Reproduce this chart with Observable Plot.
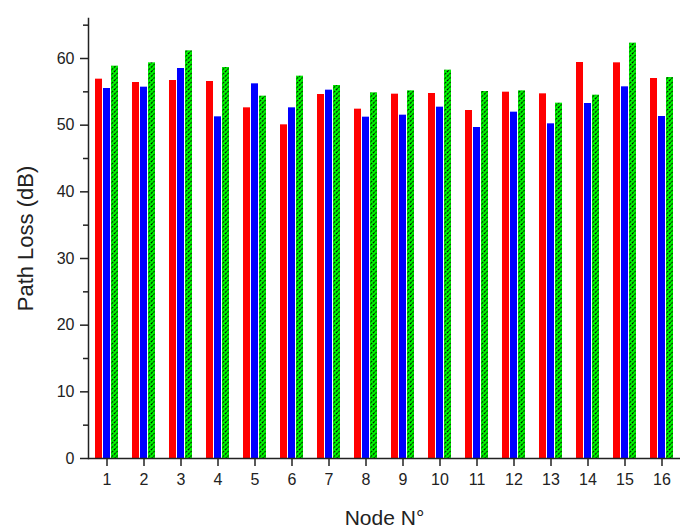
<!DOCTYPE html>
<html>
<head>
<meta charset="utf-8">
<script src="https://cdn.jsdelivr.net/npm/d3@7"></script>
<script src="https://cdn.jsdelivr.net/npm/@observablehq/plot@0.6"></script>
<style>
  html, body { margin: 0; padding: 0; background: #fff; }
  #chart svg { display: block; }
  g[aria-label="y-axis label"] text, g[aria-label="y-axis label"] { font-size: 22px; }
  g[aria-label="fx-axis label"] text, g[aria-label="fx-axis label"] { font-size: 21px; }
</style>
</head>
<body>
<div id="chart"></div>
<script>
const nodes = [1, 2, 3, 4, 5, 6, 7, 8, 9, 10, 11, 12, 13, 14, 15, 16];
const seriesNames = ["Series A", "Series B", "Series C"];
const seriesColors = ["#ff0000", "#0000ff", "url(#hatchGreen)"];
const valuesA = [56.9, 56.4, 56.7, 56.55, 52.6, 50.05, 54.6, 52.4, 54.65, 54.75, 52.2, 54.95, 54.7, 59.4, 59.35, 57.0];
const valuesB = [55.5, 55.7, 58.5, 51.25, 56.2, 52.6, 55.25, 51.2, 51.5, 52.7, 49.65, 51.95, 50.2, 53.25, 55.75, 51.3];
const valuesC = [58.85, 59.35, 61.15, 58.65, 54.35, 57.35, 55.95, 54.85, 55.15, 58.25, 55.05, 55.15, 53.3, 54.5, 62.3, 57.15];
const yMajorTicks = [0, 10, 20, 30, 40, 50, 60];
const yMinorTicks = [5, 15, 25, 35, 45, 55, 65];

const allValues = [valuesA, valuesB, valuesC];
const data = [];
nodes.forEach((n, i) => {
  seriesNames.forEach((s, j) => data.push({node: n, series: s, value: allValues[j][i]}));
});

const svg = Plot.plot({
  width: 692,
  height: 530,
  marginTop: 18,
  marginBottom: 72,
  marginLeft: 82,
  marginRight: 7,
  style: {fontFamily: "'Liberation Sans', Arial, sans-serif", fontSize: "16px", color: "#222", background: "#fff"},
  fx: {domain: nodes, padding: 0},
  x: {domain: seriesNames, axis: null, paddingInner: 0.18, paddingOuter: 0.8},
  y: {domain: [0, 66]},
  color: {type: "ordinal", domain: seriesNames, range: seriesColors},
  marks: [
    Plot.barY(data, {fx: "node", x: "series", y: "value", fill: "series"}),
    Plot.axisY({ticks: yMajorTicks, tickSize: 8, tickPadding: 6, strokeWidth: 1.5, fontSize: 16,
      label: "Path Loss (dB)", labelAnchor: "center", labelOffset: 71, labelArrow: "none"}),
    Plot.axisY({ticks: yMinorTicks, tickSize: 5, strokeWidth: 1.5, tickFormat: () => "", label: null}),
    Plot.axisFx({anchor: "bottom", tickSize: 8, tickPadding: 7, strokeWidth: 1.5, fontSize: 16,
      label: "Node N°", labelAnchor: "center", labelOffset: 66, labelArrow: "none"}),
    Plot.ruleY([0], {stroke: "#222", strokeWidth: 1.5}),
    Plot.frame({anchor: "left", facetAnchor: "left", stroke: "#222", strokeWidth: 1.5})
  ]
});

const ns = "http://www.w3.org/2000/svg";
const defs = document.createElementNS(ns, "defs");
defs.innerHTML = `<pattern id="hatchGreen" patternUnits="userSpaceOnUse" width="4.5" height="4.5">
  <rect width="4.5" height="4.5" fill="#00ff00"></rect>
  <path d="M-1,1 l2,-2 M0,4.5 l4.5,-4.5 M3.5,5.5 l2,-2" stroke="#000" stroke-width="1.1" stroke-dasharray="2.2,0.9"></path>
</pattern>`;
svg.insertBefore(defs, svg.firstChild);
document.getElementById("chart").appendChild(svg);
</script>
</body>
</html>
